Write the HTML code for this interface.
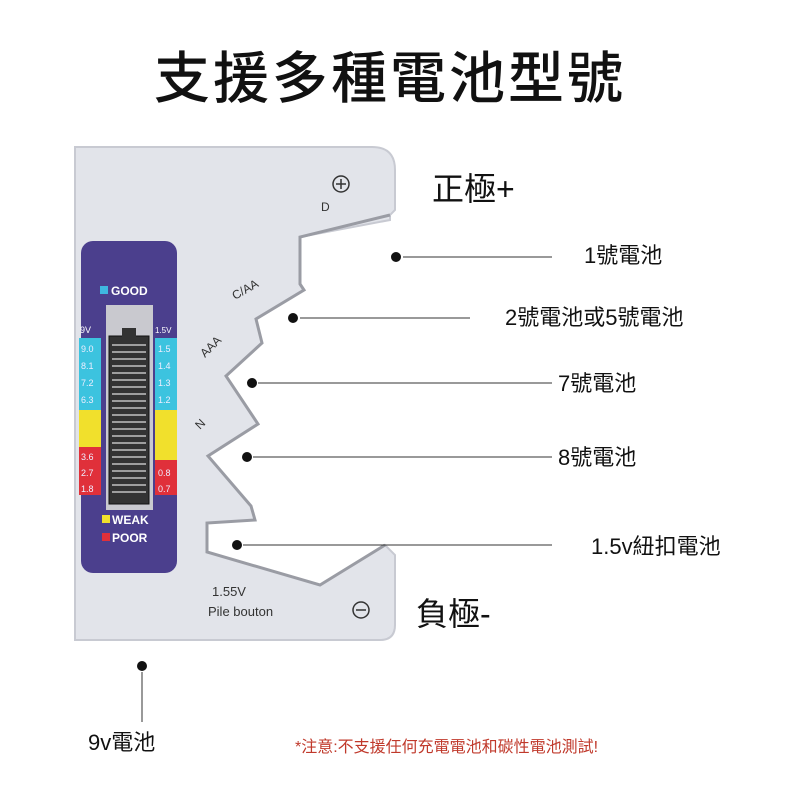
<!DOCTYPE html>
<html><head><meta charset="utf-8"><style>
body{margin:0;background:#fff;width:800px;height:800px;overflow:hidden}
svg{display:block}
.c{font-family:"Liberation Sans","Noto Sans CJK TC",sans-serif}
</style></head><body>
<svg width="800" height="800" viewBox="0 0 800 800" class="c">
<text x="390" y="98" font-size="56" text-anchor="middle" fill="#111" font-weight="500" letter-spacing="3">支援多種電池型號</text>
<path d="M75 147 H372 Q395 147 395 170 V210 L390 215 V220 L300 237 V284 L304 290 L256 319 L262 343 L226 376 L258 424 L208 456 L251 506 L255 520 L207 523 V552 L320 585 L385 545 L395 555 V625 Q395 640 380 640 H75 Z" fill="#e2e4ea" stroke="#c8cad2" stroke-width="2"/>
<path d="M390 215 L300 237 V284 L304 290 L256 319 L262 343 L226 376 L258 424 L208 456 L251 506 L255 520 L207 523 V552 L320 585 L385 545" fill="none" stroke="#9a9ca4" stroke-width="3"/>
<rect x="81" y="241" width="96" height="332" rx="12" fill="#4b3f8d"/>
<rect x="100" y="286" width="8" height="8" fill="#3fb6e0"/>
<text x="111" y="295" font-size="12" font-weight="bold" fill="#fff">GOOD</text>
<rect x="106" y="305" width="47" height="205" fill="#c9c9cf"/>
<rect x="109" y="336" width="40" height="168" fill="#333" stroke="#111"/>
<rect x="122" y="328" width="14" height="10" fill="#333"/>
<g stroke="#ddd" stroke-width="1.2">
<line x1="112" y1="345" x2="146" y2="345"/><line x1="112" y1="352" x2="146" y2="352"/><line x1="112" y1="359" x2="146" y2="359"/><line x1="112" y1="366" x2="146" y2="366"/><line x1="112" y1="373" x2="146" y2="373"/><line x1="112" y1="380" x2="146" y2="380"/><line x1="112" y1="387" x2="146" y2="387"/><line x1="112" y1="394" x2="146" y2="394"/><line x1="112" y1="401" x2="146" y2="401"/><line x1="112" y1="408" x2="146" y2="408"/><line x1="112" y1="415" x2="146" y2="415"/><line x1="112" y1="422" x2="146" y2="422"/><line x1="112" y1="429" x2="146" y2="429"/><line x1="112" y1="436" x2="146" y2="436"/><line x1="112" y1="443" x2="146" y2="443"/><line x1="112" y1="450" x2="146" y2="450"/><line x1="112" y1="457" x2="146" y2="457"/><line x1="112" y1="464" x2="146" y2="464"/><line x1="112" y1="471" x2="146" y2="471"/><line x1="112" y1="478" x2="146" y2="478"/><line x1="112" y1="485" x2="146" y2="485"/><line x1="112" y1="492" x2="146" y2="492"/>
</g>
<text x="80" y="333" font-size="9" fill="#fff">9V</text><text x="155" y="333" font-size="8" fill="#fff">1.5V</text>
<rect x="79" y="338" width="22" height="72" fill="#3cc3df"/><rect x="155" y="338" width="22" height="72" fill="#3cc3df"/>
<rect x="79" y="410" width="22" height="37" fill="#f1e02c"/><rect x="155" y="410" width="22" height="50" fill="#f1e02c"/>
<rect x="79" y="447" width="22" height="48" fill="#e0303a"/><rect x="155" y="460" width="22" height="35" fill="#e0303a"/>
<g font-size="9" fill="#eef"><text x="81" y="352">9.0</text><text x="81" y="369">8.1</text><text x="81" y="386">7.2</text><text x="81" y="403">6.3</text><text x="81" y="460">3.6</text><text x="81" y="476">2.7</text><text x="81" y="492">1.8</text>
<text x="158" y="352">1.5</text><text x="158" y="369">1.4</text><text x="158" y="386">1.3</text><text x="158" y="403">1.2</text><text x="158" y="476">0.8</text><text x="158" y="492">0.7</text></g>
<rect x="102" y="515" width="8" height="8" fill="#f1e02c"/><text x="112" y="524" font-size="12" font-weight="bold" fill="#fff">WEAK</text>
<rect x="102" y="533" width="8" height="8" fill="#e0303a"/><text x="112" y="542" font-size="12" font-weight="bold" fill="#fff">POOR</text>
<circle cx="341" cy="184" r="8" fill="none" stroke="#333" stroke-width="1.5"/><path d="M336 184h10M341 179v10" stroke="#333" stroke-width="1.5"/>
<text x="321" y="211" font-size="12" fill="#333">D</text>
<text x="235" y="300" font-size="12" fill="#333" transform="rotate(-30 235 300)">C/AA</text>
<text x="205" y="358" font-size="12" fill="#333" transform="rotate(-45 205 358)">AAA</text>
<text x="200" y="430" font-size="12" fill="#333" transform="rotate(-45 200 430)">N</text>
<text x="212" y="596" font-size="13" fill="#333">1.55V</text>
<text x="208" y="616" font-size="13" fill="#333">Pile bouton</text>
<circle cx="361" cy="610" r="8" fill="none" stroke="#333" stroke-width="1.5"/><path d="M356 610h10" stroke="#333" stroke-width="1.5"/>
<g fill="#111"><circle cx="396" cy="257" r="5"/><circle cx="293" cy="318" r="5"/><circle cx="252" cy="383" r="5"/><circle cx="247" cy="457" r="5"/><circle cx="237" cy="545" r="5"/><circle cx="142" cy="666" r="5"/></g>
<g stroke="#333" stroke-width="1"><line x1="403" y1="257" x2="552" y2="257"/><line x1="300" y1="318" x2="470" y2="318"/><line x1="258" y1="383" x2="552" y2="383"/><line x1="253" y1="457" x2="552" y2="457"/><line x1="243" y1="545" x2="552" y2="545"/><line x1="142" y1="672" x2="142" y2="722"/></g>
<g font-size="22" fill="#111"><text x="584" y="263">1號電池</text><text x="505" y="325">2號電池或5號電池</text><text x="558" y="391">7號電池</text><text x="558" y="465">8號電池</text><text x="591" y="554">1.5v紐扣電池</text><text x="88" y="750">9v電池</text></g>
<text x="432" y="200" font-size="32" fill="#111">正極+</text>
<text x="416" y="625" font-size="32" fill="#111">負極-</text>
<text x="295" y="752" font-size="16" fill="#c0392b">*注意:不支援任何充電電池和碳性電池測試!</text>
</svg>
</body></html>
